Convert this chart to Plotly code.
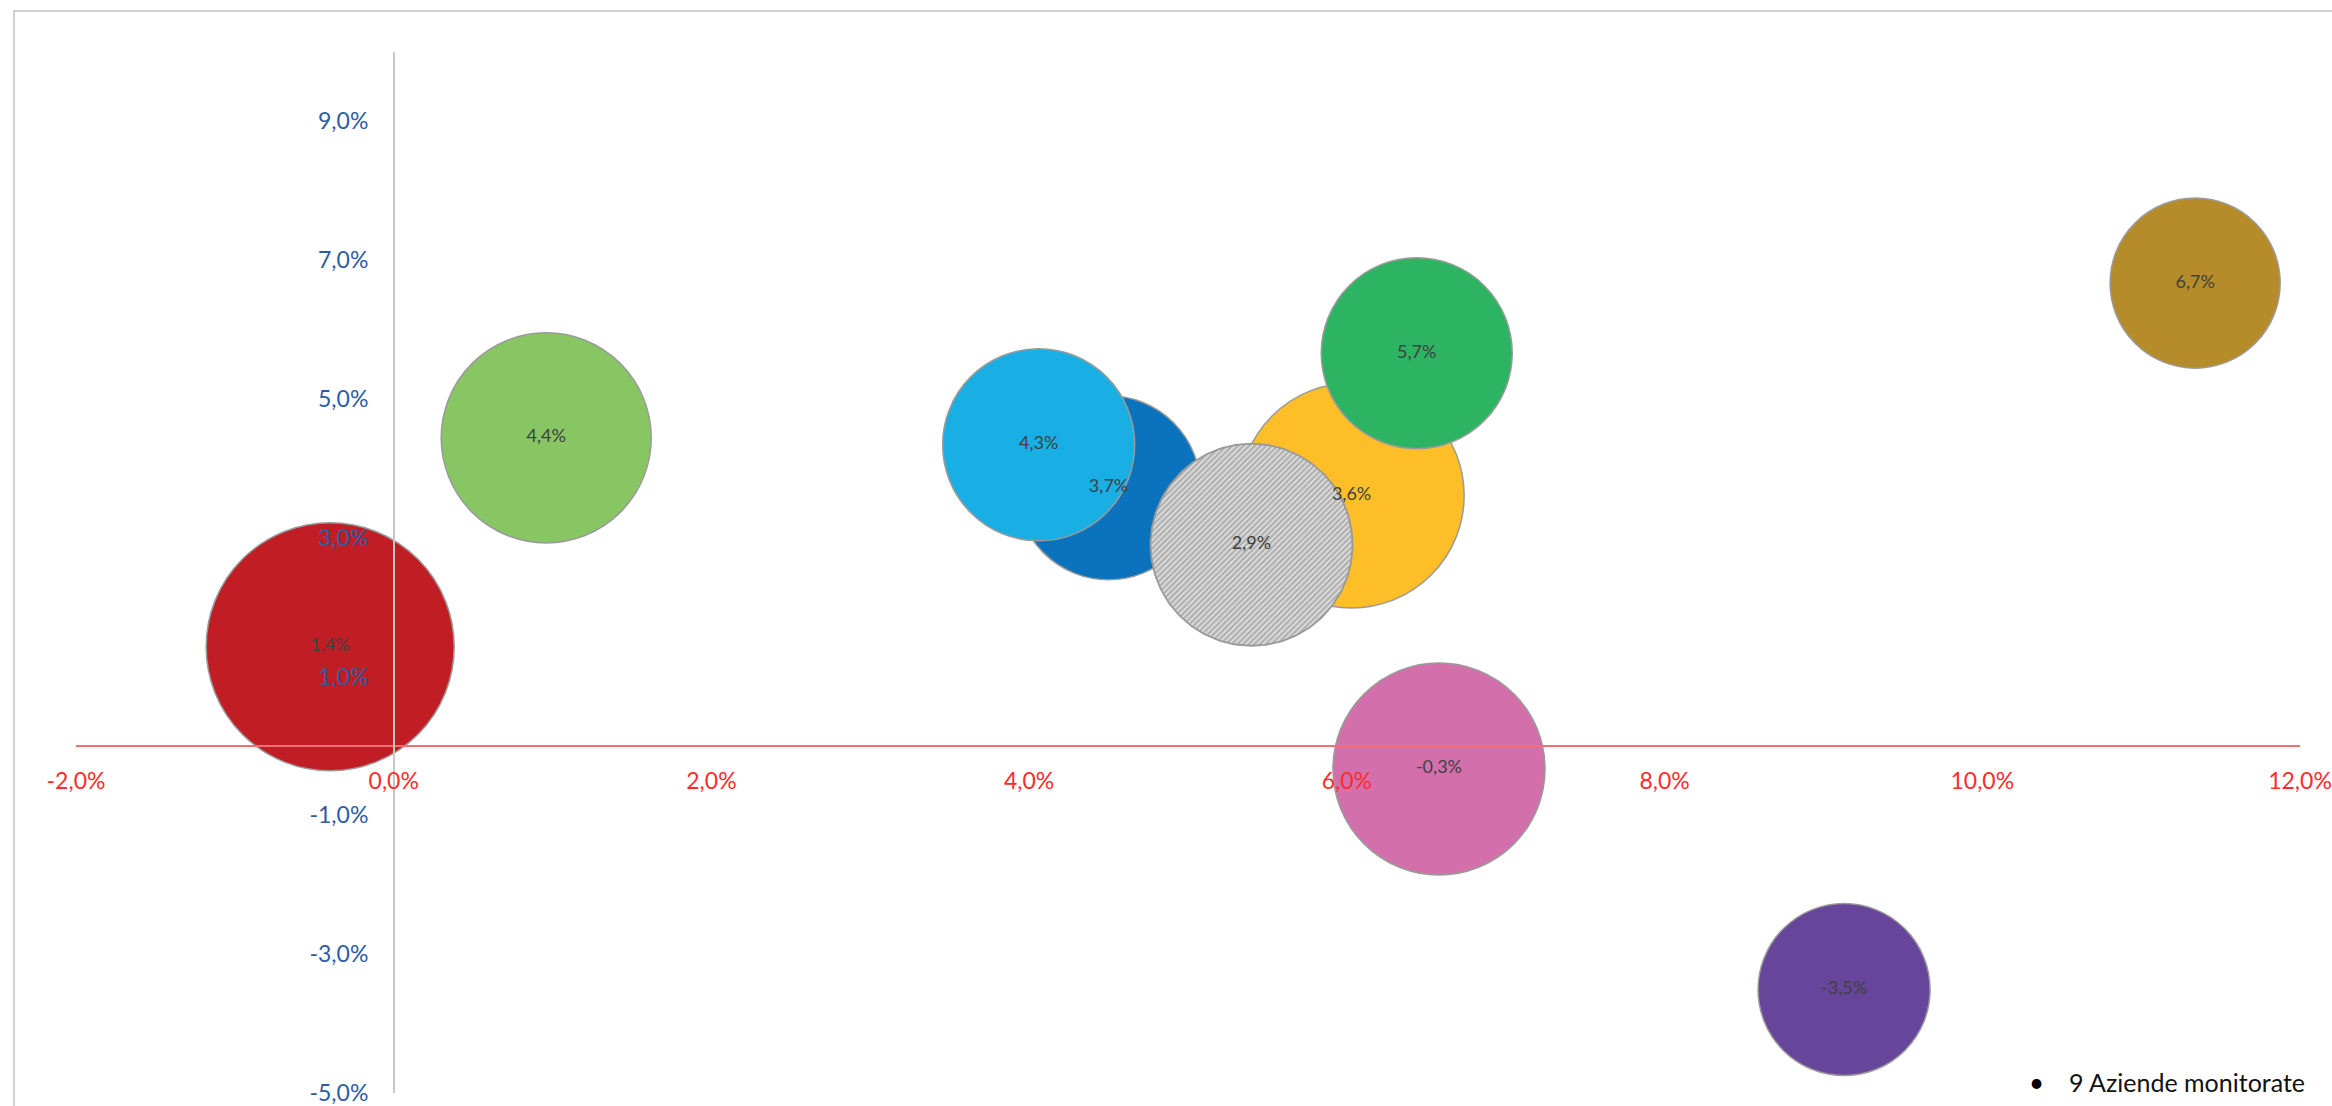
import numpy as np
import plotly.graph_objects as go

# ---------------- data ----------------
aziende = ["Azienda 1", "Azienda 2", "Azienda 3", "Azienda 4", "Azienda 5",
           "Azienda 6", "Azienda 7", "Azienda 8", "Azienda 9", "Media"]
x_valori = [-0.40, 0.96, 4.50, 4.06, 6.03, 6.44, 6.58, 9.13, 11.34, 5.40]
y_valori = [1.43, 4.44, 3.72, 4.34, 3.61, 5.66, -0.33, -3.51, 6.67, 2.90]
dimensione = [153.8, 110.3, 84.6, 92.2, 126.6, 91.2, 112.4, 74.0, 72.3, 102.0]
etichette = ["1,4%", "4,4%", "3,7%", "4,3%", "3,6%", "5,7%", "-0,3%", "-3,5%", "6,7%", "2,9%"]
colori = ["#C01E24", "#87C663", "#0B72BD", "#19AEE4", "#FDBE27",
          "#2DB463", "#D370AC", "#66459B", "#B68C2A", "#E6E6E6"]

x_tick_val = [-2, 0, 2, 4, 6, 8, 10, 12]
x_tick_txt = ["-2,0%", "0,0%", "2,0%", "4,0%", "6,0%", "8,0%", "10,0%", "12,0%"]
y_tick_val = [-5, -3, -1, 1, 3, 5, 7, 9]
y_tick_txt = ["-5,0%", "-3,0%", "-1,0%", "1,0%", "3,0%", "5,0%", "7,0%", "9,0%"]
nota = "9 Aziende monitorate"

# ---------------- layout constants ----------------
W, H = 2332, 1106
ML, MR, MT, MB = 76, 32, 52, 13
X_RANGE = [-2, 12]
Y_RANGE = [-5, 10]
SIZEREF = 0.005
FONT = "Lato, 'Open Sans', sans-serif"

n_solid = 9  # the last entry is drawn hatched

fig = go.Figure()

fig.add_trace(go.Scatter(
    x=x_valori[:n_solid], y=y_valori[:n_solid], mode="markers",
    text=aziende[:n_solid], hoverinfo="text",
    marker=dict(size=dimensione[:n_solid], sizemode="area", sizeref=SIZEREF,
                color=colori[:n_solid], opacity=1,
                line=dict(color="#9A9A9A", width=1.5)),
    showlegend=False,
))

# hatched bubble (pattern fill) computed from its data value and bubble size
pw = W - ML - MR
ph = H - MT - MB
px_x = pw / (X_RANGE[1] - X_RANGE[0])
px_y = ph / (Y_RANGE[1] - Y_RANGE[0])
r_px = np.sqrt(dimensione[-1] / (2 * SIZEREF))
th = np.linspace(0, 2 * np.pi, 241)
fig.add_trace(go.Scatter(
    x=x_valori[-1] + r_px / px_x * np.cos(th),
    y=y_valori[-1] + r_px / px_y * np.sin(th),
    mode="lines", fill="toself",
    line=dict(color="#999999", width=1.8),
    fillpattern=dict(shape="/", fgcolor="#7C7C7C", bgcolor="#DCDCDC",
                     size=4, solidity=0.5),
    hoverinfo="skip", showlegend=False,
))

# labels on top of all bubbles
fig.add_trace(go.Scatter(
    x=x_valori, y=y_valori, mode="text", text=etichette,
    textposition="middle center",
    textfont=dict(family=FONT, size=18, color="#404040"),
    hoverinfo="skip", showlegend=False,
))

fig.update_layout(
    width=W, height=H,
    margin=dict(l=ML, r=MR, t=MT, b=MB, autoexpand=False),
    paper_bgcolor="white", plot_bgcolor="white",
    font=dict(family=FONT),
    xaxis=dict(
        range=[X_RANGE[0] - 1e-6, X_RANGE[1] + 1e-6],
        anchor="free",
        position=(0 - Y_RANGE[0]) / (Y_RANGE[1] - Y_RANGE[0]),
        showline=True, linecolor="#F07070", linewidth=2,
        showgrid=False, zeroline=False,
        tickmode="array", tickvals=x_tick_val, ticktext=x_tick_txt,
        ticks="", ticklabelstandoff=14, ticklabeloverflow="allow",
        tickfont=dict(family=FONT, size=23, color="#FF2B2B"),
        automargin=False,
    ),
    yaxis=dict(
        range=[Y_RANGE[0] - 1e-6, Y_RANGE[1]],
        anchor="free",
        position=(0 - X_RANGE[0]) / (X_RANGE[1] - X_RANGE[0]),
        showline=True, linecolor="#C6C6C6", linewidth=1.5,
        showgrid=False, zeroline=False,
        tickmode="array", tickvals=y_tick_val, ticktext=y_tick_txt,
        ticks="", ticklabelstandoff=20, ticklabeloverflow="allow",
        tickfont=dict(family=FONT, size=23, color="#2E5CA4"),
        automargin=False,
    ),
    shapes=[dict(
        type="rect", xref="paper", yref="paper", layer="below",
        x0=(14 - ML) / pw, x1=(W + 20 - ML) / pw,
        y0=(H - MB - (H + 20)) / ph, y1=(H - MB - 11) / ph,
        line=dict(color="#D0D0D0", width=2), fillcolor="rgba(0,0,0,0)",
    )],
    annotations=[
        dict(text="•", xref="paper", yref="paper",
             x=(2036 - ML) / pw, y=(H - MB - 1082) / ph,
             xanchor="center", yanchor="middle", showarrow=False,
             font=dict(family=FONT, size=26, color="#000000")),
        dict(text=nota, xref="paper", yref="paper",
             x=(2067 - ML) / pw, y=(H - MB - 1082) / ph,
             xanchor="left", yanchor="middle", showarrow=False,
             font=dict(family=FONT, size=25, color="#111111")),
    ],
)

fig.write_html("out.html")
